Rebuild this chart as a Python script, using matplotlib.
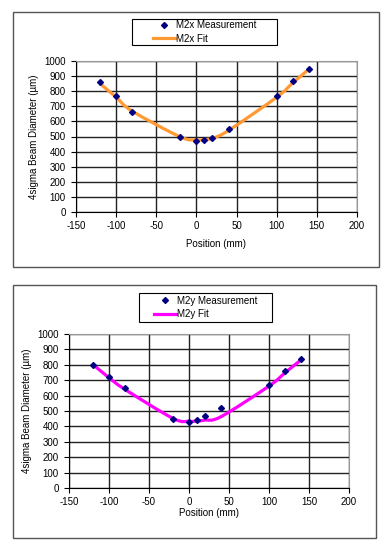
import matplotlib.pyplot as plt
from matplotlib.path import Path
from matplotlib.patches import PathPatch, Rectangle
from matplotlib.lines import Line2D

plt.rcParams['font.family'] = ['Liberation Sans', 'DejaVu Sans']
plt.rcParams['axes.unicode_minus'] = False

# Measurement positions (mm)
position = [-120, -100, -80, -20, 0, 10, 20, 40, 100, 120, 140]

# Beam diameters (um)
m2x_meas = [860, 770, 660, 500, 470, 480, 490, 550, 770, 870, 950]
m2x_fit = [850, 760, 668, 497, 478, 480, 488, 540, 760, 855, 945]
m2y_meas = [800, 720, 650, 450, 430, 440, 470, 520, 670, 760, 840]
m2y_fit = [802, 716, 640, 452, 433, 435, 441, 463, 662, 748, 832]

x_ticks = [-150, -100, -50, 0, 50, 100, 150, 200]
y_ticks = [0, 100, 200, 300, 400, 500, 600, 700, 800, 900, 1000]

W, H = 392, 550


def fig_rect(x, y, w, h):
    # pixel box (top-left origin) -> figure fraction rect
    return (x / W, 1 - (y + h) / H, w / W, h / H)


def smooth_path(xs, ys):
    # Excel-style smoothed line (cubic Bezier through every point)
    pts = list(zip(xs, ys))
    verts = [pts[0]]
    codes = [Path.MOVETO]
    n = len(pts)
    for i in range(n - 1):
        p0 = pts[i - 1] if i > 0 else pts[i]
        p1 = pts[i]
        p2 = pts[i + 1]
        p3 = pts[i + 2] if i + 2 < n else pts[i + 1]
        c1 = (p1[0] + (p2[0] - p0[0]) / 6, p1[1] + (p2[1] - p0[1]) / 6)
        c2 = (p2[0] - (p3[0] - p1[0]) / 6, p2[1] - (p3[1] - p1[1]) / 6)
        verts += [c1, c2, p2]
        codes += [Path.CURVE4] * 3
    return Path(verts, codes)


fig = plt.figure(figsize=(W / 100, H / 100), dpi=100)
fig.patch.set_facecolor('white')

# outer chart boxes
for box in [(13, 12, 366, 255), (13, 285, 363, 253)]:
    x0, y0, w, h = fig_rect(*box)
    fig.patches.append(Rectangle((x0, y0), w, h, transform=fig.transFigure,
                                 fill=False, edgecolor='#555555', linewidth=1.0))

panels = [
    (fig_rect(76, 61, 281, 151), m2x_meas, m2x_fit, '#FF9933', 'M2x',
     (132, 19, 145, 26), 6),
    (fig_rect(69, 334, 280, 154), m2y_meas, m2y_fit, '#FF00FF', 'M2y',
     (139, 293, 133, 29), 1),
]

for rect, meas, fit, color, name, leg, xpad in panels:
    ax = fig.add_axes(rect)
    ax.set_xlim(-150, 200)
    ax.set_ylim(0, 1000)
    ax.set_xticks(x_ticks)
    ax.set_yticks(y_ticks)
    ax.grid(True, color='#222222', linewidth=1.0)
    ax.set_axisbelow(True)
    for side in ['top', 'right']:
        ax.spines[side].set_color('#999999')
    for side in ['left', 'bottom']:
        ax.spines[side].set_color('black')
    ax.tick_params(direction='out', length=3.5, width=0.8, labelsize=7)
    ax.tick_params(axis='y', pad=4)
    ax.tick_params(axis='x', pad=3)

    patch = PathPatch(smooth_path(position, fit), facecolor='none',
                      edgecolor=color, linewidth=2.3, zorder=3)
    ax.add_patch(patch)
    ax.plot(position, meas, linestyle='none', marker='D', markersize=3,
            color='#000080', zorder=4)

    ax.set_xlabel('Position (mm)', fontsize=7, labelpad=xpad)
    ax.set_ylabel('4sigma Beam Diameter (µm)', fontsize=7, labelpad=4)

    # legend frame drawn separately, entries centred inside it
    lx, ly, lw, lh = fig_rect(*leg)
    fig.patches.append(Rectangle((lx, ly), lw, lh, transform=fig.transFigure,
                                 fill=False, edgecolor='black', linewidth=0.8))
    handles = [Line2D([], [], linestyle='none', marker='D', markersize=3, color='#000080'),
               Line2D([], [], color=color, linewidth=2.3)]
    fig.legend(handles, [name + ' Measurement', name + ' Fit'],
               loc='center', bbox_to_anchor=(lx, ly, lw, lh),
               bbox_transform=fig.transFigure, fontsize=7, frameon=False,
               borderaxespad=0, borderpad=0, handlelength=2.3,
               handletextpad=0.1, labelspacing=0.35)

fig.savefig('out.png', dpi=100)
